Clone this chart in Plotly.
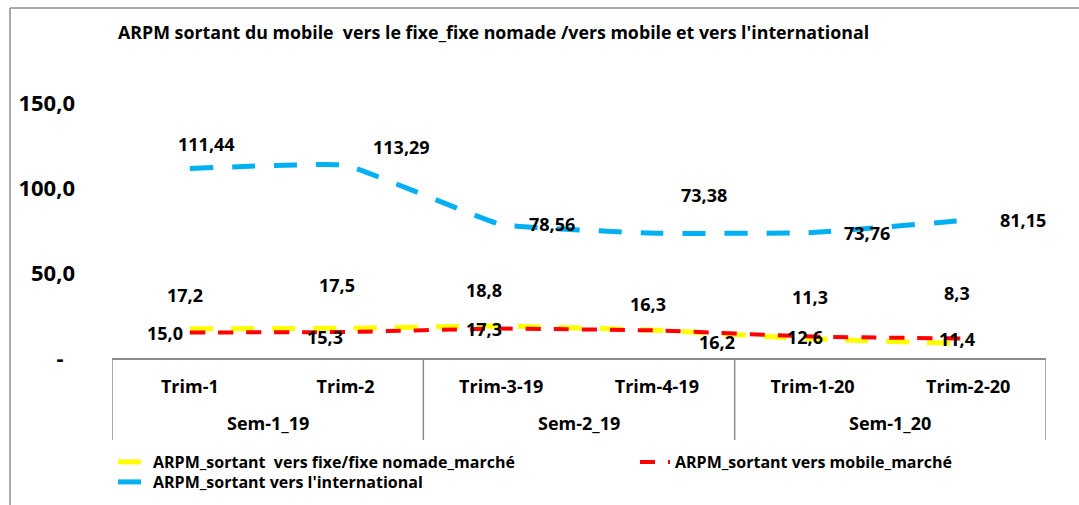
import plotly.graph_objects as go

# ---- data ----
semesters = ["Sem-1_19", "Sem-2_19", "Sem-1_20"]
quarters = ["Trim-1", "Trim-2", "Trim-3-19", "Trim-4-19", "Trim-1-20", "Trim-2-20"]
fixe_values = [17.2, 17.5, 18.8, 16.3, 11.3, 8.3]
mobile_values = [15.0, 15.3, 17.3, 16.2, 12.6, 11.4]
intl_values = [111.44, 113.29, 78.56, 73.38, 73.76, 81.15]
y_tickvals = [0, 50, 100, 150]
y_ticktext = ["-\u00a0\u00a0", "50,0", "100,0", "150,0"]

title_text = "ARPM sortant du mobile  vers le fixe_fixe nomade /vers mobile et vers l'international"
name_fixe = "ARPM_sortant  vers fixe/fixe nomade_marché"
name_mobile = "ARPM_sortant vers mobile_marché"
name_intl = "ARPM_sortant vers l'international"

# label offsets in pixels (styling, as placed in the original)
fixe_offsets = [(-5, -34), (-9, -43), (-17, -36), (-9, -26), (-3, -42), (-11, -51)]
mobile_offsets = [(-25, 0), (-21, 5), (-17, 0), (60, 12), (-8, 0), (-11, 0)]
intl_offsets = [(17, -25), (56, -18), (51, 0), (47, -38), (54, 0), (55, 0)]

FONT = "Open Sans"
GRAY = "#8C8C8C"
n_q = len(quarters)
q_per_sem = n_q // len(semesters)
sem_positions = [i * q_per_sem + (q_per_sem - 1) / 2 for i in range(len(semesters))]
group_edges = [i * q_per_sem - 0.5 for i in range(len(semesters) + 1)]
SMOOTH = 0.3

fig = go.Figure()
fig.add_trace(go.Scatter(
    x=quarters, y=fixe_values, name=name_fixe, mode="lines", legend="legend",
    line=dict(color="#FFFF00", width=5, dash="23px,18px", shape="spline", smoothing=SMOOTH),
))
fig.add_trace(go.Scatter(
    x=quarters, y=mobile_values, name=name_mobile, mode="lines", legend="legend2",
    line=dict(color="#FF0000", width=4, dash="15px,13px", shape="spline", smoothing=SMOOTH),
))
fig.add_trace(go.Scatter(
    x=quarters, y=intl_values, name=name_intl, mode="lines", legend="legend3",
    line=dict(color="#00B0F0", width=5, dash="23px,19px", shape="spline", smoothing=SMOOTH),
))

annotations = []
def add_labels(values, offsets, fmt):
    for i, (v, (dx, dy)) in enumerate(zip(values, offsets)):
        annotations.append(dict(
            x=i, y=v, xref="x", yref="y", text=fmt(v), showarrow=False,
            xshift=dx, yshift=-dy, font=dict(family=FONT, size=18, color="black", weight="bold"),
        ))

add_labels(fixe_values, fixe_offsets, lambda v: f"{v:.1f}".replace(".", ","))
add_labels(mobile_values, mobile_offsets, lambda v: f"{v:.1f}".replace(".", ","))
add_labels(intl_values, intl_offsets, lambda v: f"{v:.2f}".replace(".", ","))

axis_font = dict(family=FONT, size=18, color="black", weight="bold")
# second row of the category axis: semester groups
for pos, sem in zip(sem_positions, semesters):
    annotations.append(dict(
        x=pos, xref="x", y=(358 - 423) / 255, yref="paper", text=sem, showarrow=False,
        xanchor="center", yanchor="middle", font=axis_font,
    ))

annotations.append(dict(
    text=title_text, xref="paper", yref="paper", x=(116 - 112) / 934, y=(358 - 32) / 255,
    xanchor="left", yanchor="middle", showarrow=False,
    font=dict(family=FONT, size=17.8, color="black", weight="bold"),
))

shapes = [
    dict(type="line", xref="paper", yref="paper", x0=(10 - 112) / 934, x1=1.2,
         y0=(358 - 8) / 255, y1=(358 - 8) / 255, line=dict(color=GRAY, width=1.5)),
    dict(type="line", xref="paper", yref="paper", x0=(10 - 112) / 934, x1=(10 - 112) / 934,
         y0=(358 - 8) / 255, y1=-1.0, line=dict(color=GRAY, width=1.5)),
]
for e in group_edges:
    shapes.append(dict(type="line", xref="x", yref="paper", x0=e, x1=e,
                       y0=0, y1=-(440 - 358) / 255, line=dict(color=GRAY, width=1.5)))

legend_font = dict(family=FONT, size=16, color="black", weight="bold")
def legend_at(x_px, y_px):
    return dict(
        orientation="v", xref="container", yref="container",
        x=x_px / 1079, y=1 - y_px / 505, xanchor="left", yanchor="top",
        font=legend_font, bgcolor="rgba(0,0,0,0)", itemwidth=30,
    )

fig.update_layout(
    width=1079, height=505,
    margin=dict(l=112, r=33, t=103, b=147, autoexpand=False),
    paper_bgcolor="white", plot_bgcolor="white",
    font=dict(family=FONT, size=14, color="black", weight="bold"),
    showlegend=True,
    legend=legend_at(113, 445),
    legend2=legend_at(635, 445),
    legend3=legend_at(113, 465),
    annotations=annotations,
    shapes=shapes,
    xaxis=dict(
        type="category", range=[-0.5, n_q - 0.5], showline=True, linecolor=GRAY, linewidth=1.5,
        showgrid=False, zeroline=False, ticks="", ticklabelstandoff=12,
        tickfont=axis_font, automargin=False,
    ),
    yaxis=dict(
        range=[0, 150], tickvals=y_tickvals, ticktext=y_ticktext,
        showgrid=False, zeroline=False, showline=False, ticks="",
        ticklabelstandoff=36, automargin=False,
        tickfont=dict(family=FONT, size=22, color="black", weight="bold"),
    ),
)

fig.write_html(
    "out.html",
    config={"displayModeBar": False},
    post_script="document.body.style.margin='0';document.body.style.padding='0';",
)
